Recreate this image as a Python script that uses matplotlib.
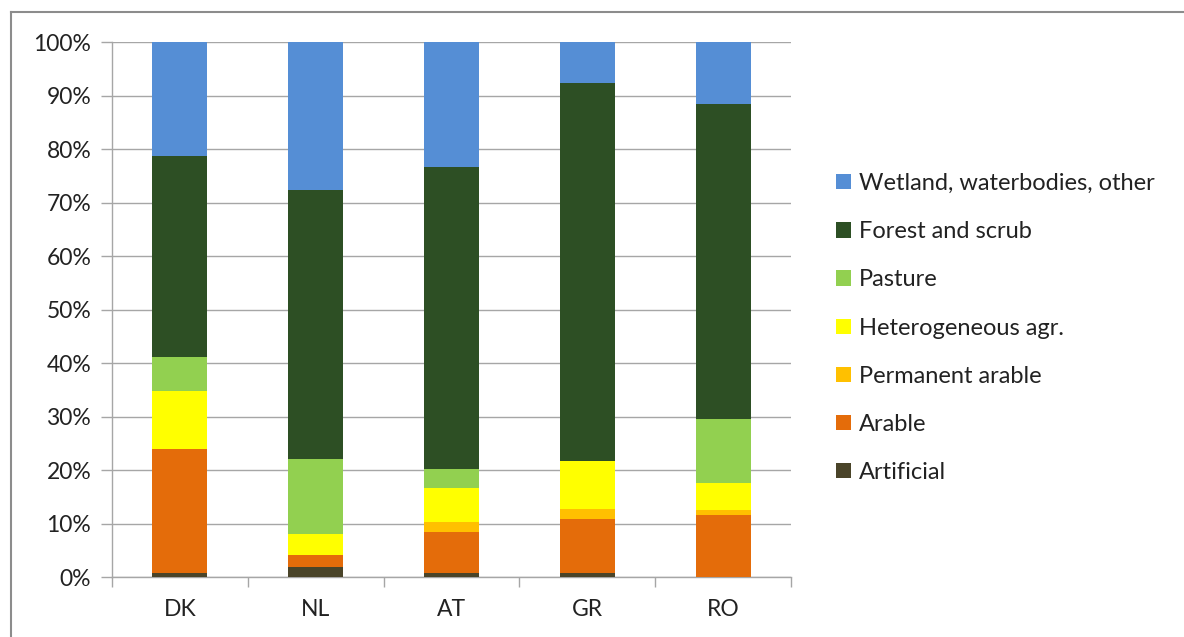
import numpy as np
import matplotlib.pyplot as plt
from matplotlib.lines import Line2D

plt.rcParams['font.family'] = ['Lato', 'DejaVu Sans']

countries = ['DK', 'NL', 'AT', 'GR', 'RO']
artificial = [0.7, 1.9, 0.7, 0.7, 0.0]
arable = [23.2, 2.2, 7.7, 10.1, 11.5]
permanent = [0.0, 0.0, 1.9, 1.9, 1.0]
heterogeneous = [10.9, 4.0, 6.3, 8.9, 5.0]
pasture = [6.3, 13.9, 3.5, 0.0, 12.0]
forest = [37.6, 50.3, 56.5, 70.7, 58.9]
wetland = [21.3, 27.7, 23.4, 7.7, 11.6]

series = [
    ('Artificial', artificial, '#4a4429'),
    ('Arable', arable, '#e46c0a'),
    ('Permanent arable', permanent, '#ffc000'),
    ('Heterogeneous agr.', heterogeneous, '#ffff00'),
    ('Pasture', pasture, '#92d050'),
    ('Forest and scrub', forest, '#2d4f24'),
    ('Wetland, waterbodies, other', wetland, '#558ed5'),
]

fig = plt.figure(figsize=(11.84, 6.37), dpi=100)
ax = fig.add_axes([112 / 1184, 1 - 577 / 637, (791 - 112) / 1184, (577 - 42) / 637])

x = np.arange(len(countries))
bottom = np.zeros(len(countries))
handles = []
for name, vals, col in series:
    vals = np.array(vals)
    b = ax.bar(x, vals, 0.405, bottom=bottom, color=col, label=name, zorder=3)
    bottom += vals
    handles.append(b)

ax.set_xlim(-0.5, len(countries) - 0.5)
ax.set_ylim(0, 100)
ax.set_yticks(np.arange(0, 101, 10))
ax.set_yticklabels([f'{v}%' for v in range(0, 101, 10)])
ax.set_xticks(x)
ax.set_xticklabels(countries)
ax.set_xticks(np.arange(-0.5, len(countries), 1), minor=True)
ax.tick_params(axis='x', which='major', length=0, pad=16, labelsize=16.5, labelcolor='#222222')
ax.tick_params(axis='x', which='minor', length=7, color='#a6a6a6', width=1)
ax.tick_params(axis='y', length=8, color='#a6a6a6', width=1, labelsize=16.5, labelcolor='#222222', pad=7)
ax.grid(axis='y', color='#a6a6a6', linewidth=1, zorder=0)
for s in ['top', 'right']:
    ax.spines[s].set_visible(False)
for s in ['left', 'bottom']:
    ax.spines[s].set_color('#a6a6a6')
    ax.spines[s].set_linewidth(1)

fig.legend(handles[::-1], [s[0] for s in series][::-1], loc='upper left',
           bbox_to_anchor=(829 / 1184, 1 - 166 / 637), frameon=False,
           fontsize=17, handlelength=0.62, handleheight=0.62, handletextpad=0.35,
           labelspacing=1.15, labelcolor='#222222', borderaxespad=0, borderpad=0.3)

# chart border (left and top only visible)
fig.add_artist(Line2D([10.5 / 1184, 10.5 / 1184], [0, 1 - 12 / 637], color='#8c8c8c', linewidth=1.5))
fig.add_artist(Line2D([10.5 / 1184, 1], [1 - 12 / 637, 1 - 12 / 637], color='#8c8c8c', linewidth=1.5))

fig.savefig('out.png', dpi=100)
